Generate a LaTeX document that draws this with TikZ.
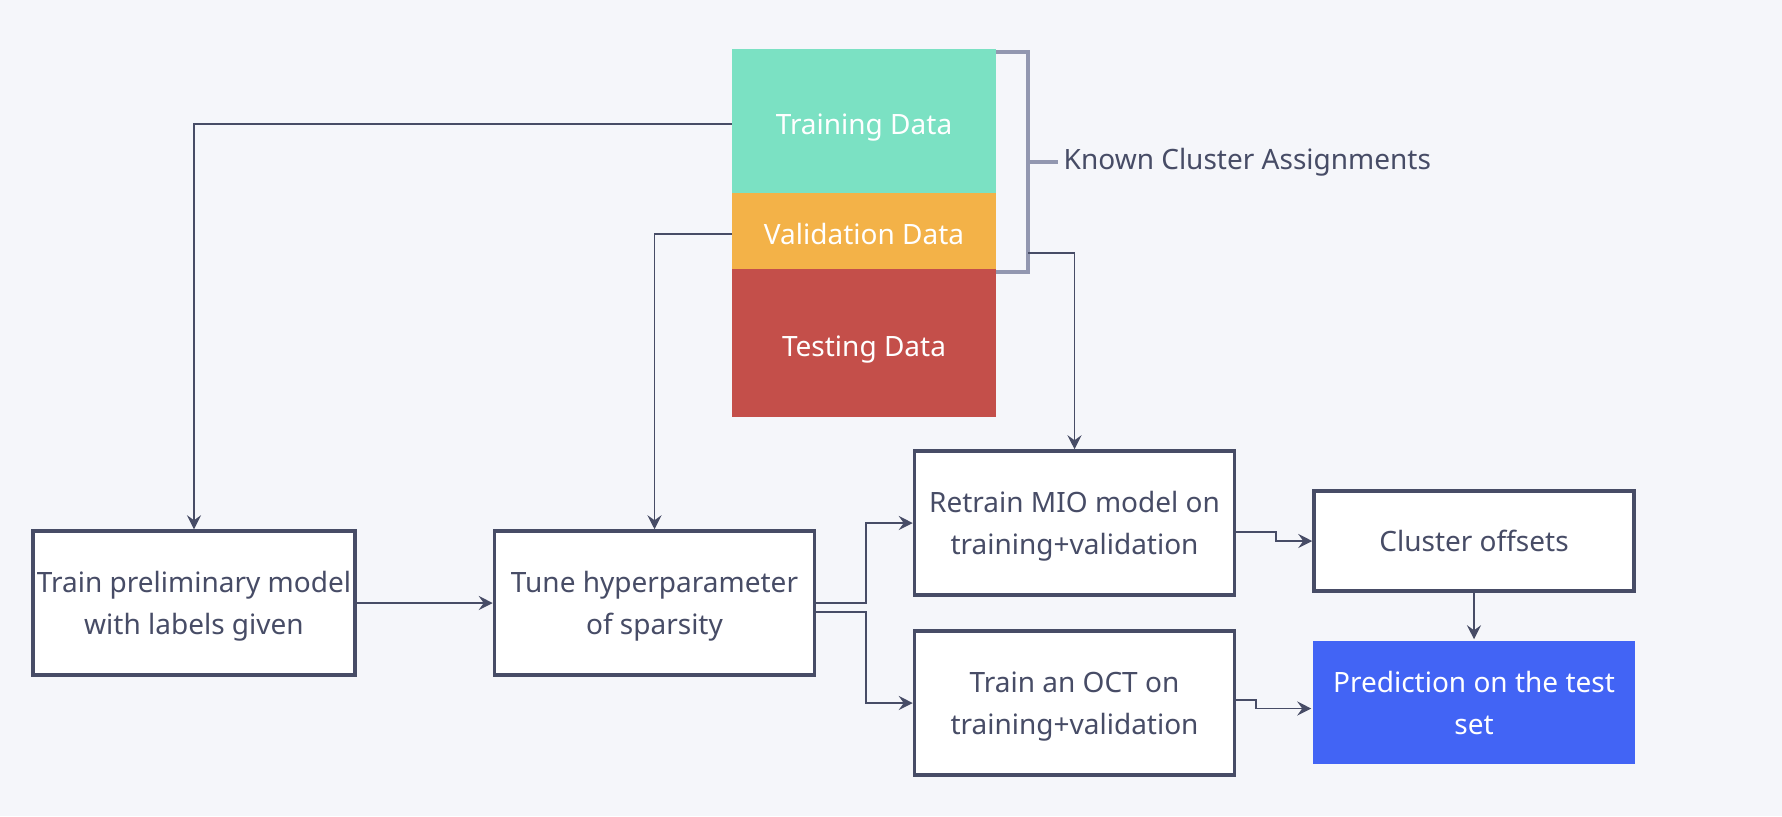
\documentclass[tikz,border=0pt]{standalone}
\usepackage{fontspec}
\setmainfont{Noto Sans}
\usetikzlibrary{arrows.meta}
\definecolor{ink}{HTML}{474C66}
\definecolor{bg}{HTML}{F5F6FA}
\definecolor{traincol}{HTML}{7BE1C3}
\definecolor{validcol}{HTML}{F3B248}
\definecolor{testcol}{HTML}{C44F4A}
\definecolor{bracketcol}{HTML}{9297B0}
\definecolor{predcol}{HTML}{4264F5}
\begin{document}
\begin{tikzpicture}[x=0.5pt, y=-0.5pt, >={Stealth[length=7pt,width=7pt,inset=2.5pt]},
  font=\fontsize{14}{21}\selectfont,
  flowbox/.style={draw=ink, line width=1.75pt, fill=white, text=ink, align=center,
    minimum width=160pt, minimum height=72pt, inner sep=2pt, text depth=0pt},
  databox/.style={fill=#1, text=white, minimum width=132pt, inner sep=0pt,
    text height=13pt, text depth=0pt},
  link/.style={draw=ink, line width=0.85pt, ->}]
\fill[bg] (0,0) rectangle (1782,816);
% data split
\node[databox=traincol, minimum height=72pt] (train) at (864,121) {Training Data};
\node[databox=validcol, minimum height=38pt] (valid) at (864,231) {Validation Data};
\node[databox=testcol, minimum height=74pt] (test) at (864,343) {Testing Data};
\draw[bracketcol, line width=1.7pt] (996,52) -- (1028,52) -- (1028,272) -- (996,272);
\draw[bracketcol, line width=1.7pt] (1028,162) -- (1058,162)
  node[right, inner sep=2pt, text=ink] (known) {Known Cluster Assignments};
\coordinate (brk) at (1028,253);
% steps
\node[flowbox] (prelim) at (194,603) {Train preliminary model\\with labels given};
\node[flowbox] (tune) at (654.5,603) {Tune hyperparameter\\of sparsity};
\node[flowbox] (retrain) at (1074.5,523) {Retrain MIO model on\\training+validation};
\node[flowbox] (oct) at (1074.5,703) {Train an OCT on\\training+validation};
\node[flowbox, minimum height=50pt] (cluster) at (1474,541) {Cluster offsets};
\node[flowbox, draw=none, fill=predcol, text=white, minimum width=161pt, minimum height=61.5pt]
  (pred) at (1474,702.5) {Prediction on the test\\set};
% links
\draw[link] ([yshift=-1.5pt]train.west) -| (prelim.north);
\draw[link] ([yshift=-1.5pt]valid.west) -| (tune.north);
\draw[link] (brk) -| (retrain.north);
\draw[link] (prelim) -- (tune);
\draw[link] (tune.east) -- ++(50,0) |- (retrain.west);
\draw[link] ([yshift=-4.5pt]tune.east) -- ++(50,0) |- (oct.west);
\draw[link] ([yshift=-4.5pt]retrain.east) -- ++(40,0) |- (cluster.west);
\draw[link] (cluster) -- (pred);
\draw[link] ([yshift=1.5pt]oct.east) -- ++(20,0) |- ([yshift=-3pt]pred.west);
\end{tikzpicture}
\end{document}
